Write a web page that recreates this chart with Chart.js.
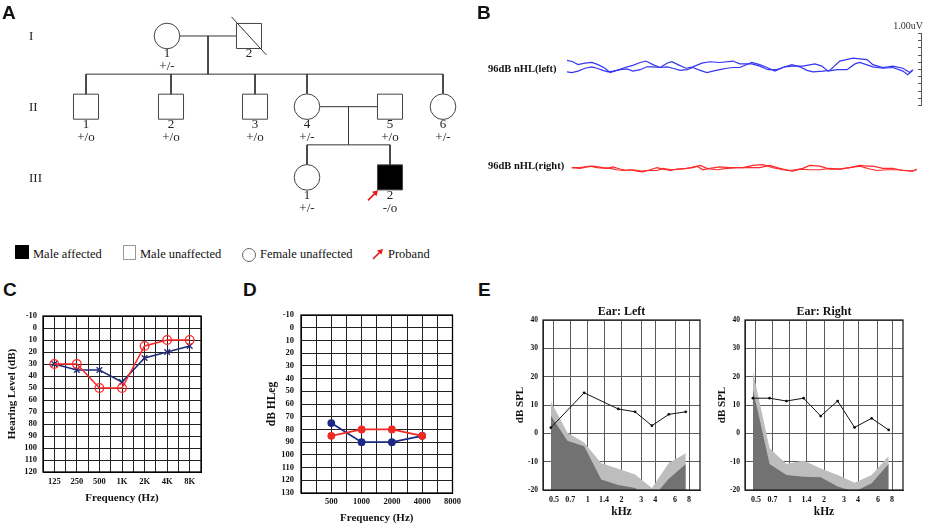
<!DOCTYPE html>
<html>
<head>
<meta charset="utf-8">
<script src="https://cdn.jsdelivr.net/npm/chart.js@4.4.1/dist/chart.umd.min.js"></script>
<style>
  html, body { margin:0; padding:0; background:#fff; }
  #wrap { position:relative; width:927px; height:526px; overflow:hidden; font-family:'Liberation Serif', serif; color:#111; }
  canvas { position:absolute; }
  .tag { position:absolute; font-family:'Liberation Sans', Arial, sans-serif; font-weight:bold; font-size:19px; line-height:1; }
  .leg { position:absolute; top:247px; font-size:12.5px; line-height:14px; white-space:nowrap; }
  .box { position:absolute; }
</style>
</head>
<body>
<div id="wrap">
  <canvas id="cA" width="470" height="240" style="left:0;top:0"></canvas>
  <canvas id="cB" width="457" height="200" style="left:470px;top:0"></canvas>
  <canvas id="cC" width="215" height="226" style="left:0;top:300px"></canvas>
  <canvas id="cD" width="215" height="226" style="left:250px;top:300px"></canvas>
  <canvas id="cE1" width="205" height="226" style="left:500px;top:300px"></canvas>
  <canvas id="cE2" width="227" height="226" style="left:700px;top:300px"></canvas>

  <div class="tag" style="left:2px;top:3px">A</div>
  <div class="tag" style="left:477px;top:3px">B</div>
  <div class="tag" style="left:3px;top:280px">C</div>
  <div class="tag" style="left:243px;top:280px">D</div>
  <div class="tag" style="left:478px;top:280px">E</div>

  <div class="box" style="left:15px;top:245px;width:14px;height:14px;background:#000"></div>
  <div class="leg" style="left:33px">Male affected</div>
  <div class="box" style="left:123px;top:245px;width:11px;height:13px;border:1px solid #999"></div>
  <div class="leg" style="left:140px">Male unaffected</div>
  <div class="box" style="left:242px;top:248px;width:12px;height:12px;border:1px solid #666;border-radius:50%"></div>
  <div class="leg" style="left:260px">Female unaffected</div>
  <svg class="box" style="left:371px;top:248px" width="13" height="12" viewBox="0 0 13 12">
    <line x1="2" y1="11" x2="10" y2="3" stroke="#e81818" stroke-width="1.6"/>
    <polygon points="12,1 6,2.5 10.5,6.5" fill="#e81818"/>
  </svg>
  <div class="leg" style="left:388px">Proband</div>
</div>

<script>
// ---- A: pedigree ----
const pedIds      = ['I-1','I-2','II-1','II-2','II-3','II-4','II-5','II-6','III-1','III-2'];
const pedGen      = [1, 1, 2, 2, 2, 2, 2, 2, 3, 3];
const pedPos      = [16.7, 24.9, 8.6, 17.1, 25.5, 30.7, 39.0, 44.3, 30.7, 39.0];
const pedSex      = ['F','M','M','M','M','F','M','F','F','M'];
const pedAffected = [0, 0, 0, 0, 0, 0, 0, 0, 0, 1];
const pedDeceased = [0, 1, 0, 0, 0, 0, 0, 0, 0, 0];
const pedNum      = ['1','2','1','2','3','4','5','6','1','2'];
const pedGeno     = ['+/-','','+/o','+/o','+/o','+/-','+/o','+/-','+/-','-/o'];
const pedCouples  = [['I-1','I-2'], ['II-4','II-5']];
const pedChildren = [['II-1','II-2','II-3','II-4','II-6'], ['III-1','III-2']];
const genLabels   = ['I','II','III'];
const probandId   = 'III-2';

// ---- B: ABR traces (time ms, amplitude uV) ----
const abrLeftT1  = [0,0.17,0.32,0.52,0.72,0.90,1.10,1.25,1.45,1.68,1.91,2.12,2.29,2.49,2.70,2.90,3.04,3.22,3.45,3.65,3.91,4.14,4.43,4.81,5.01,5.36,5.59,5.83,6.09,6.32,6.55,6.84,7.19,7.39,7.57,7.83,8.12,8.35,8.49,8.87,9.16,9.45,9.74,9.88,10.03];
const abrLeftV1  = [0.09,0.07,0.03,0.05,0.06,0.03,-0.02,-0.08,-0.05,-0.01,0.02,0.06,0.08,0.03,-0.01,0.05,0.07,0.03,-0.02,0.00,0.05,0.07,0.06,0.08,0.04,0.04,0.01,-0.04,-0.04,0.00,0.01,0.01,0.04,0.01,-0.06,-0.04,-0.04,0.04,0.06,0.00,-0.02,-0.01,-0.06,-0.11,-0.05];
const abrLeftT2  = [0,0.14,0.32,0.52,0.72,0.87,1.04,1.19,1.33,1.54,1.74,1.91,2.12,2.32,2.49,2.70,2.90,3.07,3.28,3.48,3.65,3.86,4.06,4.23,4.43,4.64,4.81,5.01,5.36,5.59,5.80,6.03,6.26,6.52,6.75,6.96,7.13,7.42,7.62,7.91,8.29,8.70,8.87,9.16,9.45,9.74,9.94,10.03];
const abrLeftV2  = [-0.07,-0.08,-0.06,-0.02,0.00,-0.02,-0.05,-0.07,-0.06,-0.04,-0.03,-0.06,-0.04,0.00,0.00,-0.01,0.00,-0.02,-0.05,-0.04,-0.01,-0.05,-0.08,-0.06,-0.04,-0.02,-0.01,-0.01,0.06,0.03,-0.01,-0.06,-0.01,0.03,0.00,-0.05,-0.07,-0.06,-0.05,0.08,0.12,0.10,0.03,-0.01,0.01,-0.02,-0.08,-0.04];
const abrRightT1 = [0.14,0.38,0.58,0.75,1.04,1.25,1.45,1.62,1.83,2.03,2.20,2.41,2.61,2.78,2.99,3.19,3.48,3.77,3.94,4.14,4.43,4.72,5.10,5.39,5.68,5.97,6.26,6.55,6.84,7.04,7.33,7.62,7.91,8.20,8.49,8.78,8.99,9.28,9.57,9.86,10.03,10.14];
const abrRightV1 = [0.01,0.00,0.02,0.03,0.01,0.00,-0.02,-0.03,-0.02,-0.04,-0.05,-0.02,0.01,-0.01,-0.03,-0.01,0.00,0.03,-0.02,0.00,0.02,0.01,0.01,0.04,0.05,0.01,-0.02,-0.04,0.00,0.04,0.03,-0.01,-0.01,0.01,0.03,-0.01,-0.03,-0.02,-0.02,-0.03,-0.04,-0.01];
const abrRightT2 = [0.14,0.38,0.67,0.87,1.16,1.33,1.54,1.74,1.91,2.17,2.35,2.61,2.78,3.04,3.28,3.65,3.86,4.06,4.35,4.64,4.93,5.30,5.59,5.88,6.17,6.46,6.75,7.04,7.33,7.62,7.91,8.20,8.49,8.70,8.87,9.16,9.45,9.74,10.00,10.14];
const abrRightV2 = [0.01,0.01,0.03,0.01,0.00,0.02,-0.01,-0.03,-0.02,-0.04,-0.03,-0.03,0.00,-0.02,-0.01,0.01,0.04,0.00,-0.02,0.00,0.01,0.01,0.01,0.04,0.00,-0.03,-0.01,-0.02,-0.02,0.00,-0.01,0.01,0.04,0.03,0.03,0.00,0.00,-0.03,-0.04,-0.02];
const abrOffsetLeft = -0.65, abrOffsetRight = -2.06, abrBarTop = -0.18;

// ---- C: pure tone audiogram ----
const freqLabelsC = ['125','250','500','1K','2K','4K','8K'];
const rightEarC   = [30, 30, 50, 50, 15, 10, 10];
const leftEarC    = [30, 35, 35, 45, 25, 20, 15];

// ---- D: ASSR ----
const freqLabelsD = ['500','1000','2000','4000','8000'];
const rightEarD   = [85, 80, 80, 85];
const leftEarD    = [75, 90, 90, 85];

// ---- E: DPOAE ----
const kHzTicks     = [0.5, 0.7, 1, 1.4, 2, 3, 4, 6, 8];
const dpFreq       = [0.47, 0.66, 0.93, 1.32, 1.87, 2.64, 3.73, 5.28, 7.47];
const leftDP       = [2, null, 14.3, null, 8.6, 7.6, 2.7, 6.7, 7.6];
const leftNoiseHi  = [11.2, 0.2, -3.2, -10.6, -12.5, -14.5, -19.3, -10.5, -7];
const leftNoiseLo  = [6.2, -2.6, -4.6, -16.3, -18.2, -19.3, -23, -16, -10.8];
const rightDP      = [12.4, 12.4, 11.4, 12.4, 6.1, 11.4, 2.1, 5.3, 1.2];
const rightNoiseHi = [21.8, -5.3, -10.8, -9.6, -12.4, -14.7, -17.4, -14.7, -8];
const rightNoiseLo = [15.5, -10.8, -14.7, -15.3, -15.5, -18.8, -20.6, -17.6, -10.8];

const SERIF = 'Liberation Serif';
const bold = size => ({family: SERIF, size: size, weight: 'bold'});
const noPlugins = {legend: {display: false}, tooltip: {enabled: false}};

const frame = {
    id: 'frame',
    afterDraw(chart, args, opts) {
        const {ctx, chartArea: a} = chart;
        ctx.save();
        ctx.strokeStyle = opts.color || '#000';
        ctx.lineWidth = opts.width || 1.2;
        ctx.strokeRect(a.left, a.top, a.right - a.left, a.bottom - a.top);
        ctx.restore();
    }
};

// ---------- A ----------
const SIB_DROP = 0.54;
const idx = id => pedIds.indexOf(id);
const pt = i => ({x: pedPos[i], y: pedGen[i]});
const pedLines = [];
pedCouples.forEach(([a, b]) => pedLines.push([pt(idx(a)), pt(idx(b))]));
pedChildren.forEach((kids, k) => {
    const [a, b] = pedCouples[k];
    const midX = (pedPos[idx(a)] + pedPos[idx(b)]) / 2;
    const g = pedGen[idx(a)];
    const sibY = g + SIB_DROP;
    pedLines.push([{x: midX, y: g}, {x: midX, y: sibY}]);
    const xs = kids.map(id => pedPos[idx(id)]);
    pedLines.push([{x: Math.min(...xs), y: sibY}, {x: Math.max(...xs), y: sibY}]);
    kids.forEach(id => pedLines.push([{x: pedPos[idx(id)], y: sibY}, pt(idx(id))]));
});

const pedSets = [];
const symbolSet = (filter, style, radius, fill) => ({
    data: pedIds.map((_, i) => i).filter(filter).map(pt),
    pointStyle: style, pointRadius: radius, pointBorderWidth: 1,
    pointBorderColor: '#444', pointBackgroundColor: fill, showLine: false, order: 0
});
pedSets.push(symbolSet(i => pedSex[i] === 'M' && !pedAffected[i], 'rect', 17.7, '#fff'));
pedSets.push(symbolSet(i => pedSex[i] === 'M' && pedAffected[i], 'rect', 17.7, '#000'));
pedSets.push(symbolSet(i => pedSex[i] === 'F', 'circle', 12.8, '#fff'));
pedIds.forEach((id, i) => {
    if (pedDeceased[i]) {
        pedSets.push({data: [{x: pedPos[i] - 1.75, y: pedGen[i] - 0.27}, {x: pedPos[i] + 1.75, y: pedGen[i] + 0.27}],
            showLine: true, borderColor: '#333', borderWidth: 1, pointRadius: 0, order: -1});
    }
});
pedLines.forEach(seg => pedSets.push({data: seg, showLine: true, borderColor: '#333', borderWidth: 1, pointRadius: 0, order: 2}));

const pedText = {
    id: 'pedText',
    afterDatasetsDraw(chart) {
        const {ctx, scales: {x, y}} = chart;
        ctx.save();
        ctx.fillStyle = '#222';
        ctx.font = '13px "' + SERIF + '"';
        ctx.textAlign = 'center';
        ctx.textBaseline = 'middle';
        pedIds.forEach((id, i) => {
            const px = x.getPixelForValue(pedPos[i]), py = y.getPixelForValue(pedGen[i]);
            ctx.fillText(pedNum[i], px, py + 18);
            if (pedGeno[i]) ctx.fillText(pedGeno[i], px, py + 31);
        });
        ctx.textAlign = 'left';
        genLabels.forEach((g, k) => ctx.fillText(g, x.getPixelForValue(2.9), y.getPixelForValue(k + 1) + 1));
        // proband arrow
        const p = idx(probandId);
        const tx = x.getPixelForValue(pedPos[p]) - 13, ty = y.getPixelForValue(pedGen[p]) + 14;
        ctx.strokeStyle = '#e81818'; ctx.fillStyle = '#e81818'; ctx.lineWidth = 1.6;
        ctx.beginPath(); ctx.moveTo(tx - 9, ty + 9); ctx.lineTo(tx - 1, ty + 1); ctx.stroke();
        ctx.beginPath(); ctx.moveTo(tx + 1, ty - 1); ctx.lineTo(tx - 5, ty + 0.5); ctx.lineTo(tx - 0.5, ty + 5); ctx.closePath(); ctx.fill();
        ctx.restore();
    }
};

new Chart(document.getElementById('cA'), {
    type: 'scatter',
    data: {datasets: pedSets},
    options: {
        responsive: false, animation: false,
        layout: {autoPadding: false, padding: 0},
        plugins: noPlugins,
        scales: {
            x: {display: false, min: 0, max: 47},
            y: {display: false, reverse: true, min: 0.491, max: 3.886}
        }
    },
    plugins: [pedText]
});

// ---------- B ----------
const trace = (ts, vs, off) => ts.map((t, i) => ({x: t, y: vs[i] + off}));
const abrDecor = {
    id: 'abrDecor',
    afterDraw(chart) {
        const {ctx, scales: {x, y}} = chart;
        ctx.save();
        ctx.fillStyle = '#111';
        ctx.font = 'bold 10.5px "' + SERIF + '"';
        ctx.textAlign = 'left';
        ctx.textBaseline = 'middle';
        ctx.fillText('96dB nHL(left)', 18, y.getPixelForValue(abrOffsetLeft) + 2);
        ctx.fillText('96dB nHL(right)', 18, y.getPixelForValue(abrOffsetRight) - 2);
        // 1 uV scale bar
        const bx = x.right + 4;
        const top = y.getPixelForValue(abrBarTop), bot = y.getPixelForValue(abrBarTop - 1);
        ctx.strokeStyle = '#555'; ctx.lineWidth = 1;
        ctx.beginPath(); ctx.moveTo(bx + 0.5, top); ctx.lineTo(bx + 0.5, bot);
        for (let k = 0; k <= 10; k++) {
            const ty = Math.round(y.getPixelForValue(abrBarTop - k / 10)) + 0.5;
            ctx.moveTo(bx - 3, ty); ctx.lineTo(bx + 1, ty);
        }
        ctx.stroke();
        ctx.font = '10px "' + SERIF + '"';
        ctx.fillStyle = '#333';
        ctx.textAlign = 'right';
        ctx.textBaseline = 'alphabetic';
        ctx.fillText('1.00uV', bx + 2, top - 4);
        ctx.restore();
    }
};
const BLUE = '#3535f2', RED = '#ff2b2b';
new Chart(document.getElementById('cB'), {
    type: 'scatter',
    data: {datasets: [
        {data: trace(abrLeftT1, abrLeftV1, abrOffsetLeft), borderColor: BLUE},
        {data: trace(abrLeftT2, abrLeftV2, abrOffsetLeft), borderColor: BLUE},
        {data: trace(abrRightT1, abrRightV1, abrOffsetRight), borderColor: RED},
        {data: trace(abrRightT2, abrRightV2, abrOffsetRight), borderColor: RED}
    ].map(d => Object.assign(d, {showLine: true, borderWidth: 1.2, pointRadius: 0}))},
    options: {
        responsive: false, animation: false,
        layout: {autoPadding: false, padding: {left: 97, right: 10, top: 20, bottom: 0}},
        plugins: noPlugins,
        scales: {
            x: {display: false, min: 0, max: 10.15},
            y: {display: false, min: -2.5, max: 0}
        }
    },
    plugins: [abrDecor]
});

// ---------- C ----------
new Chart(document.getElementById('cC'), {
    type: 'line',
    data: {datasets: [
        {data: freqLabelsC.map((_, i) => ({x: 2 * i + 1, y: rightEarC[i]})), borderColor: '#ff2626', borderWidth: 1.5,
         pointStyle: 'circle', pointRadius: 4.3, pointBorderWidth: 1.3, pointBorderColor: '#ff2626', pointBackgroundColor: 'rgba(0,0,0,0)'},
        {data: freqLabelsC.map((_, i) => ({x: 2 * i + 1, y: leftEarC[i]})), borderColor: '#1f2a78', borderWidth: 1.5,
         pointStyle: 'crossRot', pointRadius: 4, pointBorderWidth: 1.3, pointBorderColor: '#1f2a78'}
    ]},
    options: {
        responsive: false, animation: false,
        layout: {autoPadding: false, padding: {top: 16, right: 14, left: 0, bottom: 0}},
        plugins: Object.assign({frame: {width: 1.3}}, noPlugins),
        scales: {
            x: {type: 'linear', min: 0, max: 14, afterFit: s => { s.height = 54; },
                grid: {color: '#222', drawTicks: false}, border: {color: '#000'},
                ticks: {stepSize: 1, autoSkip: false, maxRotation: 0, padding: 5, color: '#111', font: bold(8.5),
                        callback: v => v % 2 === 1 ? freqLabelsC[(v - 1) / 2] : ''},
                title: {display: true, text: 'Frequency (Hz)', color: '#111', font: bold(11), padding: {top: 0, bottom: 21}}},
            y: {reverse: true, min: -10, max: 120, afterFit: s => { s.width = 43; },
                grid: {color: '#222', drawTicks: false}, border: {color: '#000'},
                ticks: {stepSize: 10, autoSkip: false, padding: 6, color: '#111', font: bold(8.5)},
                title: {display: true, text: 'Hearing Level (dB)', color: '#111', font: bold(11), padding: {top: 6, bottom: 0}}}
        }
    },
    plugins: [frame]
});

// ---------- D ----------
new Chart(document.getElementById('cD'), {
    type: 'line',
    data: {datasets: [
        {data: rightEarD.map((v, i) => ({x: 2 * i + 2, y: v})), borderColor: '#ee2a22', pointBackgroundColor: '#ee2a22', pointBorderColor: '#ee2a22'},
        {data: leftEarD.map((v, i) => ({x: 2 * i + 2, y: v})), borderColor: '#1b2a84', pointBackgroundColor: '#1b2a84', pointBorderColor: '#1b2a84'}
    ].map(d => Object.assign(d, {borderWidth: 1.8, pointRadius: 3, pointStyle: 'circle'}))},
    options: {
        responsive: false, animation: false,
        layout: {autoPadding: false, padding: {top: 15, right: 8, left: 0, bottom: 0}},
        plugins: Object.assign({frame: {width: 1.3}}, noPlugins),
        scales: {
            x: {type: 'linear', min: 0, max: 10, afterFit: s => { s.height = 33; },
                grid: {color: '#222', drawTicks: false}, border: {color: '#000'},
                ticks: {stepSize: 1, autoSkip: false, maxRotation: 0, padding: 4, color: '#111', font: bold(8.5),
                        callback: v => v % 2 === 0 && v > 0 ? freqLabelsD[v / 2 - 1] : ''},
                title: {display: true, text: 'Frequency (Hz)', color: '#111', font: bold(11), padding: {top: 0, bottom: 1}}},
            y: {reverse: true, min: -10, max: 130, afterFit: s => { s.width = 51; },
                grid: {color: '#222', drawTicks: false}, border: {color: '#000'},
                ticks: {stepSize: 10, autoSkip: false, padding: 7, color: '#111', font: bold(8.5)},
                title: {display: true, text: 'dB HLeg', color: '#111', font: bold(11.5), padding: {top: 15, bottom: 0}}}
        }
    },
    plugins: [frame]
});

// ---------- E ----------
const earTitle = {
    id: 'earTitle',
    afterDraw(chart, args, opts) {
        const {ctx, chartArea: a} = chart;
        ctx.save();
        ctx.font = 'bold 12px "' + SERIF + '"';
        ctx.fillStyle = '#111';
        ctx.textAlign = 'center';
        ctx.textBaseline = 'middle';
        ctx.fillText(opts.text, (a.left + a.right) / 2, a.top - 8);
        ctx.restore();
    }
};

function dpoae(id, title, dp, hi, lo, yWidth, yTitlePad, padRight) {
    new Chart(document.getElementById(id), {
        type: 'line',
        data: {datasets: [
            {data: dpFreq.map((f, i) => ({x: f, y: dp[i]})), borderColor: '#111', borderWidth: 1, spanGaps: true,
             pointRadius: 1.4, pointBackgroundColor: '#111', pointBorderWidth: 0, order: 0},
            {data: dpFreq.map((f, i) => ({x: f, y: lo[i]})), borderWidth: 0, pointRadius: 0, fill: 'start',
             backgroundColor: '#727272', order: 1},
            {data: dpFreq.map((f, i) => ({x: f, y: hi[i]})), borderWidth: 0, pointRadius: 0, fill: 'start',
             backgroundColor: '#bdbdbd', order: 2}
        ]},
        options: {
            responsive: false, animation: false,
            layout: {autoPadding: false, padding: {top: 20, right: padRight, left: 0, bottom: 0}},
            plugins: Object.assign({frame: {width: 1.3, color: '#222'}, earTitle: {text: title}}, noPlugins),
            scales: {
                x: {type: 'logarithmic', min: 0.4, max: 10, z: 1,
                    afterBuildTicks: s => { s.ticks = kHzTicks.map(v => ({value: v})); },
                    afterFit: s => { s.height = 36; },
                    grid: {color: '#5a5a5a', drawTicks: false}, border: {color: '#222'},
                    ticks: {autoSkip: false, maxRotation: 0, padding: 5, color: '#111', font: bold(8), callback: v => String(v)},
                    title: {display: true, text: 'kHz', color: '#111', font: bold(11.5), padding: {top: 0, bottom: 7}}},
                y: {min: -20, max: 40, z: 1, afterFit: s => { s.width = yWidth; },
                    grid: {color: '#5a5a5a', drawTicks: false}, border: {color: '#222'},
                    ticks: {stepSize: 10, autoSkip: false, padding: 5, color: '#111', font: bold(7.5)},
                    title: {display: true, text: 'dB SPL', color: '#111', font: bold(11), padding: {top: yTitlePad, bottom: 0}}}
            }
        },
        plugins: [frame, earTitle]
    });
}
dpoae('cE1', 'Ear: Left', leftDP, leftNoiseHi, leftNoiseLo, 43, 14, 5);
dpoae('cE2', 'Ear: Right', rightDP, rightNoiseHi, rightNoiseLo, 45, 16, 24);
</script>
</body>
</html>
